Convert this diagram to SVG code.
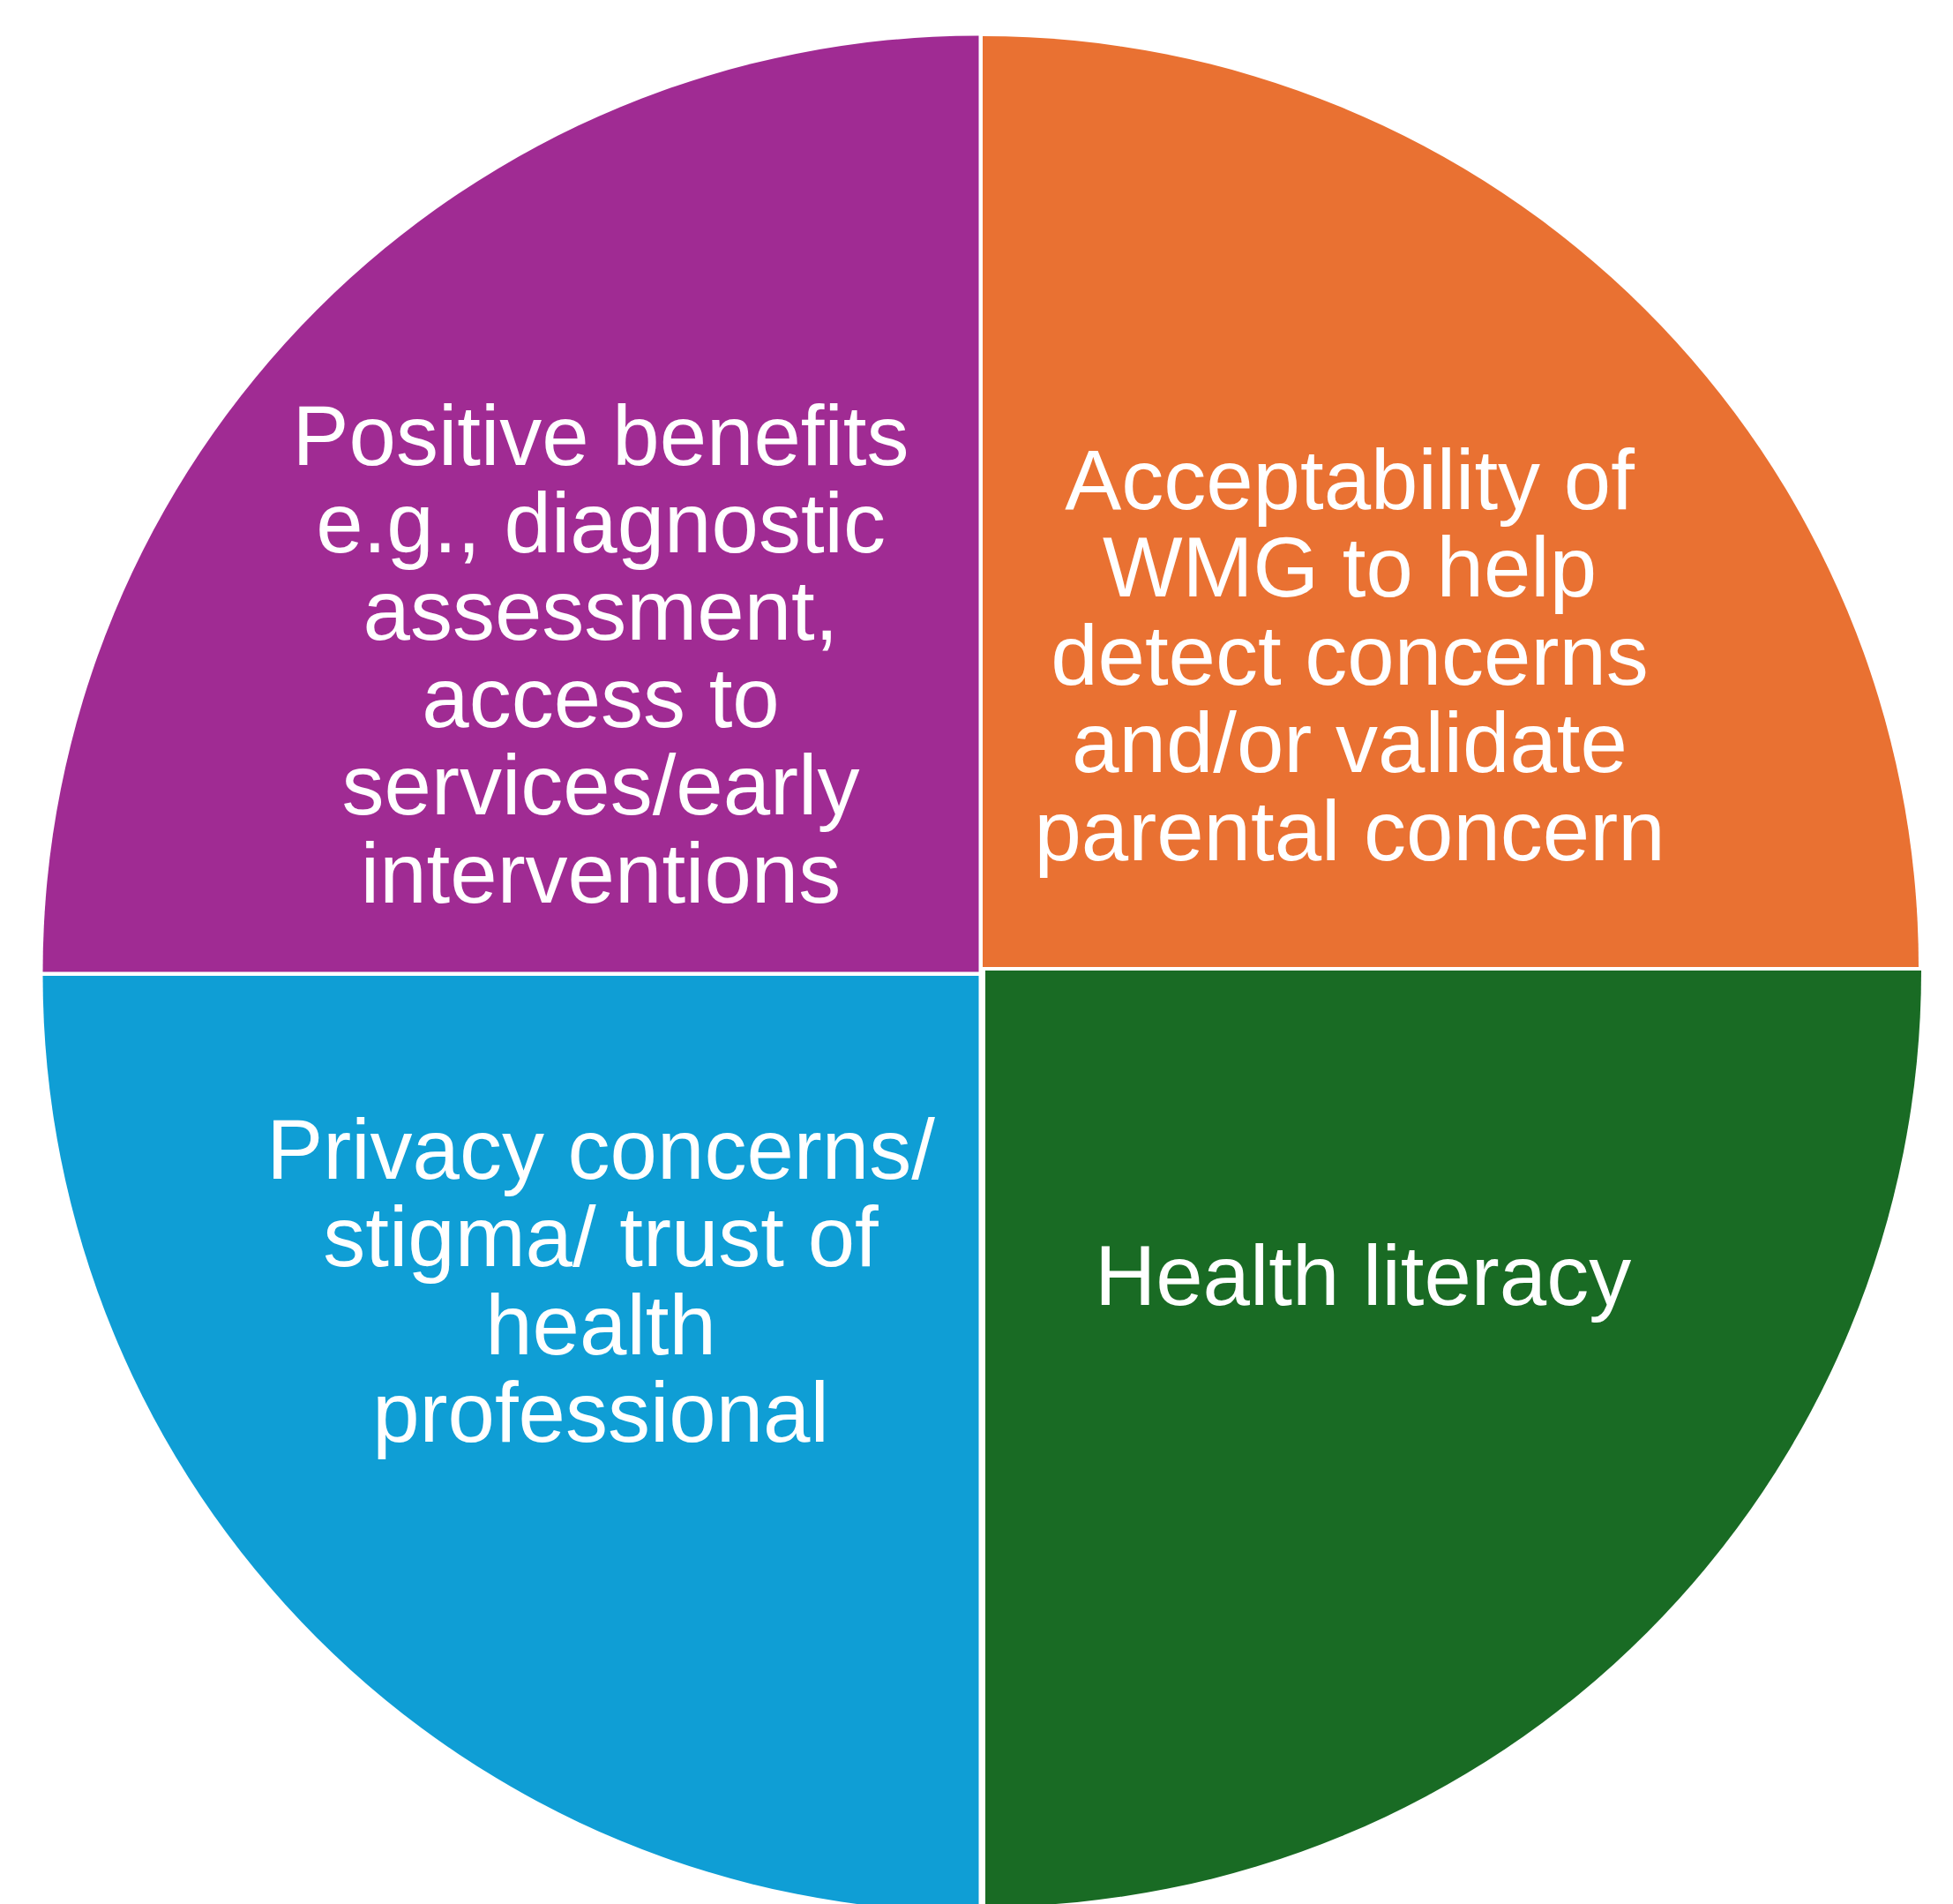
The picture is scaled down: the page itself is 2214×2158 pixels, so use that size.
<svg xmlns="http://www.w3.org/2000/svg" width="2214" height="2158" viewBox="0 0 2214 2158">
<style>
.lbl{font-family:"Liberation Sans",Arial,sans-serif;font-size:96px;fill:#FFFFFF;text-anchor:middle}
</style>
<rect x="0" y="0" width="2214" height="2158" fill="#FFFFFF"/>
<g id="segment-positive-benefits">
<path d="M1109.5 1101.5 L48.5 1101.5 A1061 1061 0 0 1 1109.5 40.5 Z" fill="#A02B93"/>
<text class="lbl" x="681" y="527">Positive benefits</text>
<text class="lbl" x="681" y="626">e.g., diagnostic</text>
<text class="lbl" x="681" y="725">assessment,</text>
<text class="lbl" x="681" y="824">access to</text>
<text class="lbl" x="681" y="923">services/early</text>
<text class="lbl" x="681" y="1023">interventions</text>
</g>
<g id="segment-acceptability">
<path d="M1114 1096 L1114 41 A1061 1055 0 0 1 2175 1096 Z" fill="#E97132"/>
<text class="lbl" x="1530" y="577">Acceptability of</text>
<text class="lbl" x="1530" y="676">WMG to help</text>
<text class="lbl" x="1530" y="776">detect concerns</text>
<text class="lbl" x="1530" y="875">and/or validate</text>
<text class="lbl" x="1530" y="975">parental concern</text>
</g>
<g id="segment-privacy">
<path d="M1109.5 1106 L1109.5 2167 A1061 1061 0 0 1 48.5 1106 Z" fill="#0F9ED5"/>
<text class="lbl" x="681" y="1336">Privacy concerns/</text>
<text class="lbl" x="681" y="1435">stigma/ trust of</text>
<text class="lbl" x="681" y="1535">health</text>
<text class="lbl" x="681" y="1634">professional</text>
</g>
<g id="segment-health-literacy">
<path d="M1117 1100 L2178 1100 A1061 1061 0 0 1 1117 2161 Z" fill="#196B24"/>
<text class="lbl" x="1545" y="1479">Health literacy</text>
</g>
<g id="connectors"></g>
</svg>
